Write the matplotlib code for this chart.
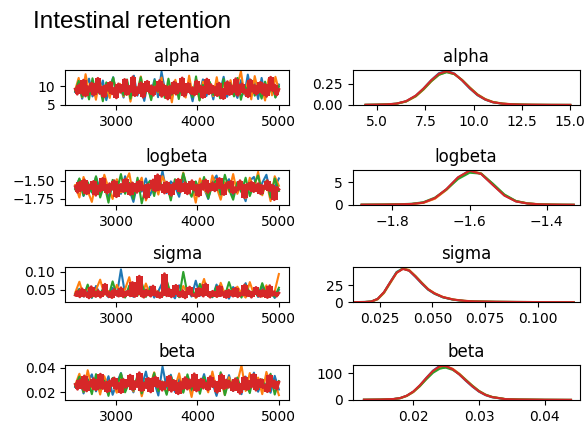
import numpy as np
import matplotlib
matplotlib.use("Agg")
import matplotlib.pyplot as plt

params = ["alpha", "logbeta", "sigma", "beta"]
chain_colors = ["C0", "C1", "C2", "C3"]
first_draw = 2500
last_draw = 5000

# ---- trace values (thinned) ----
alpha_blue = [8.4, 10.9, 6.6, 9.8, 12.0, 7.2, 10.4, 8.0, 11.5, 6.2, 9.6, 12.4, 7.9, 10.1, 6.9, 11.0, 8.5, 12.8, 7.4, 9.9,
              6.0, 10.7, 8.2, 11.9, 7.0, 13.9, 8.8, 10.3, 6.7, 11.2, 8.3, 12.1, 7.5, 9.7, 5.9, 10.6, 8.1, 11.8, 7.3, 10.0,
              6.4, 11.4, 8.6, 12.5, 7.1, 10.2, 8.9, 6.8, 11.6, 7.7, 13.1, 8.0, 10.8, 6.5, 12.2, 7.6, 9.5, 11.1, 7.0, 10.4]
alpha_orange = [9.0, 12.2, 7.0, 13.2, 8.2, 10.8, 6.3, 11.5, 7.8, 9.9, 6.8, 12.0, 8.5, 10.6, 7.2, 11.3, 5.8, 10.1, 8.7, 12.6,
                7.5, 9.6, 6.6, 11.0, 8.3, 12.3, 7.1, 10.4, 5.6, 11.7, 8.0, 9.8, 6.9, 12.8, 7.7, 10.5, 6.2, 11.2, 8.4, 9.7,
                7.3, 12.4, 6.7, 10.9, 8.1, 11.6, 7.4, 10.2, 14.0, 7.9, 11.1, 6.4, 12.7, 8.6, 10.0, 6.1, 11.9, 7.5, 12.5, 8.8]
alpha_green = [8.6, 11.4, 7.1, 10.5, 6.4, 12.1, 7.9, 10.2, 5.9, 11.0, 8.3, 12.3, 6.9, 9.8, 7.5, 11.8, 6.6, 10.7, 8.1, 12.4,
               7.3, 10.0, 6.2, 11.5, 8.5, 9.7, 6.8, 12.0, 7.7, 10.9, 6.5, 11.3, 8.2, 9.9, 7.0, 12.6, 6.1, 10.3, 8.4, 11.1,
               7.6, 9.6, 6.7, 11.9, 8.0, 10.6, 7.2, 12.2, 6.3, 10.1, 8.7, 11.6, 7.4, 9.5, 6.6, 11.2, 7.8, 10.4, 6.9, 9.9]
alpha_red = [9.2, 7.8, 10.4, 8.1, 11.6, 7.3, 9.9, 8.6, 10.8, 7.6, 9.4, 12.1, 8.0, 9.7, 7.1, 10.2, 8.8, 11.0, 7.9, 9.5,
             6.8, 10.6, 8.3, 9.1, 11.8, 7.7, 10.0, 8.5, 12.5, 7.4, 9.6, 8.2, 10.9, 7.0, 9.3, 11.3, 8.4, 10.1, 7.5, 9.8,
             8.7, 11.5, 7.2, 10.3, 8.9, 6.5, 9.9, 8.0, 11.1, 7.8, 10.5, 8.6, 12.2, 7.3, 9.4, 10.7, 8.1, 9.6, 7.6, 11.4,
             8.5, 10.0, 6.9, 9.2, 11.9, 7.9, 10.4, 8.3, 9.7, 7.4, 10.8, 8.8, 6.6, 9.5, 11.2, 7.7, 10.1, 8.4, 12.0, 7.5,
             9.3, 10.6, 8.2, 9.0, 7.1, 11.7, 8.6, 10.2, 7.8, 9.8, 11.0, 8.0, 10.5, 7.2, 9.4, 12.4, 8.7, 10.3, 7.6, 9.1]

logbeta_blue = [-1.60, -1.48, -1.71, -1.55, -1.66, -1.45, -1.63, -1.52, -1.74, -1.57,
                -1.50, -1.68, -1.44, -1.62, -1.79, -1.53, -1.65, -1.47, -1.70, -1.56,
                -1.61, -1.37, -1.67, -1.51, -1.58, -1.72, -1.46, -1.64, -1.54, -1.69,
                -1.49, -1.60, -1.75, -1.52, -1.43, -1.66, -1.57, -1.48, -1.71, -1.55,
                -1.63, -1.78, -1.50, -1.45, -1.67, -1.53, -1.42, -1.69, -1.59, -1.47]
logbeta_orange = [-1.56, -1.73, -1.45, -1.64, -1.79, -1.51, -1.68, -1.42, -1.60, -1.75,
                  -1.48, -1.66, -1.53, -1.40, -1.70, -1.57, -1.46, -1.77, -1.62, -1.50,
                  -1.69, -1.44, -1.58, -1.73, -1.49, -1.63, -1.39, -1.67, -1.55, -1.80,
                  -1.47, -1.61, -1.71, -1.43, -1.59, -1.76, -1.52, -1.65, -1.41, -1.68,
                  -1.54, -1.74, -1.46, -1.62, -1.38, -1.70, -1.51, -1.78, -1.44, -1.57]
logbeta_green = [-1.62, -1.47, -1.70, -1.52, -1.66, -1.44, -1.73, -1.55, -1.80, -1.49,
                 -1.64, -1.41, -1.68, -1.53, -1.75, -1.46, -1.81, -1.58, -1.50, -1.71,
                 -1.43, -1.63, -1.54, -1.77, -1.48, -1.67, -1.40, -1.60, -1.72, -1.51,
                 -1.65, -1.45, -1.74, -1.56, -1.49, -1.69, -1.42, -1.62, -1.76, -1.52,
                 -1.66, -1.46, -1.71, -1.55, -1.43, -1.68, -1.50, -1.73, -1.47, -1.64]
logbeta_red = [-1.58, -1.66, -1.52, -1.63, -1.49, -1.68, -1.56, -1.61, -1.51, -1.70,
               -1.57, -1.64, -1.47, -1.60, -1.67, -1.54, -1.62, -1.50, -1.72, -1.59,
               -1.55, -1.65, -1.48, -1.61, -1.69, -1.53, -1.58, -1.66, -1.51, -1.63,
               -1.57, -1.74, -1.55, -1.60, -1.49, -1.64, -1.42, -1.62, -1.56, -1.67,
               -1.52, -1.59, -1.70, -1.54, -1.61, -1.48, -1.65, -1.57, -1.53, -1.68,
               -1.60, -1.50, -1.63, -1.56, -1.71, -1.55, -1.62, -1.49, -1.66, -1.58,
               -1.53, -1.64, -1.57, -1.47, -1.61, -1.69, -1.54, -1.60, -1.51, -1.67,
               -1.59, -1.63, -1.50, -1.56, -1.73, -1.55, -1.62, -1.52, -1.65, -1.58,
               -1.54, -1.68, -1.57, -1.61, -1.50, -1.64, -1.56, -1.76, -1.59, -1.62]

sigma_blue = [.038, .052, .030, .047, .026, .060, .035, .043, .028, .055,
              .033, .107, .037, .050, .029, .066, .040, .031, .058, .027,
              .045, .070, .034, .041, .025, .062, .036, .048, .030, .075,
              .032, .053, .039, .028, .064, .035, .046, .024, .057, .037,
              .042, .068, .031, .050, .029, .061, .034, .044, .026, .049]
sigma_orange = [.041, .072, .032, .055, .029, .049, .078, .035, .046, .027,
                .063, .038, .051, .085, .033, .044, .030, .067, .036, .057,
                .028, .048, .074, .034, .042, .031, .060, .039, .052, .026,
                .045, .080, .035, .043, .029, .069, .037, .050, .032, .058,
                .040, .027, .071, .036, .047, .030, .062, .034, .045, .094]
sigma_green = [.036, .050, .031, .064, .028, .045, .039, .057, .030, .073,
               .034, .048, .027, .061, .042, .033, .069, .029, .052, .037,
               .044, .031, .076, .035, .047, .028, .100, .038, .054, .030,
               .066, .036, .043, .029, .059, .040, .032, .071, .035, .049,
               .027, .063, .038, .046, .031, .068, .034, .041, .030, .055]
sigma_red = [.034, .045, .029, .052, .031, .041, .026, .058, .036, .030,
             .047, .028, .039, .065, .033, .043, .027, .050, .035, .031,
             .055, .029, .038, .046, .032, .070, .030, .042, .088, .034,
             .028, .049, .037, .031, .060, .033, .044, .027, .040, .095,
             .032, .051, .029, .038, .062, .035, .030, .047, .026, .041,
             .057, .033, .036, .029, .053, .038, .031, .066, .034, .028,
             .045, .037, .030, .059, .033, .042, .027, .048, .036, .031,
             .054, .029, .040, .035, .063, .032, .046, .028, .039, .056,
             .034, .030, .049, .036, .027, .061, .033, .044, .031, .040]

beta_blue = [.0242, .0314, .0190, .0282, .0346, .0207, .0300, .0230, .0331, .0179,
             .0276, .0357, .0228, .0291, .0199, .0317, .0245, .0369, .0213, .0285,
             .0173, .0410, .0236, .0343, .0202, .0308, .0253, .0297, .0193, .0323,
             .0239, .0348, .0216, .0279, .0170, .0305, .0233, .0340, .0210, .0288,
             .0184, .0328, .0248, .0360, .0204, .0294, .0256, .0196, .0334, .0222]
beta_orange = [.0259, .0351, .0202, .0380, .0236, .0311, .0181, .0331, .0225, .0285,
               .0196, .0346, .0245, .0305, .0207, .0325, .0167, .0291, .0251, .0363,
               .0216, .0276, .0190, .0317, .0239, .0354, .0204, .0300, .0161, .0337,
               .0230, .0282, .0199, .0369, .0222, .0302, .0179, .0323, .0242, .0279,
               .0419, .0210, .0357, .0233, .0320, .0184, .0366, .0248, .0288, .0176]
beta_green = [.0248, .0328, .0204, .0302, .0184, .0348, .0228, .0294, .0170, .0317,
              .0239, .0354, .0199, .0282, .0216, .0340, .0190, .0308, .0233, .0357,
              .0210, .0288, .0179, .0331, .0245, .0279, .0196, .0346, .0222, .0314,
              .0187, .0325, .0236, .0285, .0202, .0363, .0176, .0297, .0242, .0320,
              .0219, .0276, .0193, .0343, .0230, .0305, .0207, .0351, .0181, .0291]
beta_red = [.0265, .0224, .0300, .0233, .0334, .0210, .0285, .0248, .0311, .0219,
            .0271, .0348, .0230, .0279, .0204, .0294, .0253, .0317, .0228, .0274,
            .0196, .0305, .0239, .0262, .0340, .0222, .0288, .0245, .0360, .0213,
            .0276, .0236, .0314, .0202, .0268, .0325, .0242, .0291, .0216, .0282,
            .0251, .0331, .0207, .0297, .0256, .0187, .0285, .0230, .0320, .0225,
            .0302, .0248, .0351, .0210, .0271, .0308, .0233, .0276, .0219, .0328,
            .0245, .0288, .0199, .0265, .0343, .0228, .0300, .0239, .0279, .0213,
            .0311, .0253, .0190, .0274, .0323, .0222, .0291, .0242, .0346, .0216,
            .0268, .0305, .0236, .0259, .0204, .0337, .0248, .0294, .0225, .0282]

# ---- posterior density curves (one per chain) ----
alpha_grid = [4.4, 5.0, 5.5, 6.0, 6.5, 7.0, 7.4, 7.8, 8.2, 8.6, 9.0, 9.4, 9.8, 10.2, 10.6, 11.0, 11.5, 12.0, 12.5, 13.0, 14.0, 15.0]
alpha_kde_blue = [0.001, 0.003, 0.007, 0.015, 0.043, 0.108, 0.192, 0.292, 0.374, 0.405, 0.370, 0.288, 0.193, 0.114, 0.062, 0.031, 0.014, 0.007, 0.004, 0.002, 0.001, 0.001]
alpha_kde_orange = [0.001, 0.003, 0.006, 0.014, 0.040, 0.100, 0.180, 0.276, 0.356, 0.388, 0.364, 0.295, 0.206, 0.125, 0.070, 0.036, 0.017, 0.009, 0.005, 0.003, 0.0015, 0.001]
alpha_kde_green = [0.002, 0.004, 0.007, 0.015, 0.042, 0.104, 0.184, 0.279, 0.355, 0.386, 0.362, 0.294, 0.203, 0.121, 0.066, 0.033, 0.015, 0.008, 0.004, 0.002, 0.001, 0.0005]
alpha_kde_red = [0.002, 0.004, 0.007, 0.016, 0.045, 0.111, 0.194, 0.290, 0.368, 0.397, 0.366, 0.290, 0.198, 0.118, 0.064, 0.032, 0.015, 0.008, 0.004, 0.003, 0.001, 0.0005]

logbeta_grid = [-1.88, -1.82, -1.78, -1.75, -1.72, -1.69, -1.66, -1.63, -1.60, -1.57, -1.54, -1.51, -1.48, -1.45, -1.42, -1.39, -1.36, -1.33]
logbeta_kde_blue = [0.02, 0.05, 0.11, 0.19, 0.48, 1.45, 3.45, 6.05, 7.6, 6.85, 4.45, 2.1, 0.78, 0.3, 0.12, 0.05, 0.02, 0.01]
logbeta_kde_orange = [0.02, 0.05, 0.1, 0.17, 0.44, 1.35, 3.3, 5.9, 7.5, 6.95, 4.6, 2.2, 0.85, 0.34, 0.14, 0.07, 0.03, 0.01]
logbeta_kde_green = [0.03, 0.07, 0.14, 0.24, 0.58, 1.6, 3.4, 5.7, 7.1, 6.9, 4.7, 2.3, 0.85, 0.32, 0.12, 0.05, 0.02, 0.01]
logbeta_kde_red = [0.03, 0.06, 0.12, 0.2, 0.5, 1.5, 3.5, 6.1, 7.55, 6.8, 4.4, 2.05, 0.75, 0.3, 0.12, 0.06, 0.03, 0.01]

sigma_grid = [0.013, 0.018, 0.021, 0.024, 0.027, 0.030, 0.033, 0.036, 0.039, 0.042, 0.045, 0.048, 0.051, 0.055, 0.060, 0.065, 0.070, 0.080, 0.090, 0.100, 0.117]
sigma_kde_blue = [0.1, 0.3, 0.9, 4.6, 14.5, 30, 45, 50.5, 47, 37.5, 27.5, 18.5, 12.5, 7.2, 3.6, 1.9, 1.0, 0.5, 0.3, 0.15, 0.05]
sigma_kde_orange = [0.1, 0.2, 0.8, 4.2, 13.5, 28.5, 43.5, 50.5, 48, 39, 29, 19.5, 13.5, 7.8, 4.0, 2.1, 1.2, 0.6, 0.3, 0.2, 0.05]
sigma_kde_green = [0.1, 0.3, 1.0, 4.8, 14.5, 29.5, 44.5, 50, 47, 38.5, 28.5, 19, 12.8, 7.3, 3.7, 1.9, 1.0, 0.5, 0.3, 0.15, 0.05]
sigma_kde_red = [0.1, 0.3, 1.0, 5.0, 15, 30, 44, 49.5, 47, 38, 28, 19, 13, 7.5, 3.8, 2.0, 1.1, 0.5, 0.3, 0.15, 0.05]

beta_grid = [0.0125, 0.015, 0.017, 0.018, 0.019, 0.020, 0.021, 0.022, 0.023, 0.024, 0.0245, 0.025, 0.026, 0.027,
             0.028, 0.029, 0.030, 0.031, 0.032, 0.034, 0.036, 0.040, 0.044]
beta_kde_blue = [0.6, 1.3, 3.2, 6.6, 15.2, 30.5, 54, 83, 110, 128, 130, 128, 116, 96, 72, 50, 31, 18, 10, 2.8, 1.4, 0.5, 0.1]
beta_kde_orange = [0.5, 1.2, 3.0, 6.2, 14.5, 29, 51, 79, 105, 122, 125, 125, 117, 99, 76, 54, 34, 20, 11.5, 3.3, 1.7, 0.6, 0.2]
beta_kde_green = [0.7, 1.4, 3.4, 6.8, 15.5, 30.5, 52, 78, 102, 117, 120, 121, 113, 97, 75, 53, 33.5, 19.5, 11, 3.2, 1.6, 0.5, 0.1]
beta_kde_red = [0.8, 1.5, 3.5, 7.0, 15.9, 31.5, 55, 83, 109, 126, 128, 126.5, 115, 96, 73, 51, 32, 18.5, 10.5, 3, 1.5, 0.5, 0.1]

traces = {
    "alpha": [alpha_blue, alpha_orange, alpha_green, alpha_red],
    "logbeta": [logbeta_blue, logbeta_orange, logbeta_green, logbeta_red],
    "sigma": [sigma_blue, sigma_orange, sigma_green, sigma_red],
    "beta": [beta_blue, beta_orange, beta_green, beta_red],
}
kdes = {
    "alpha": (alpha_grid, [alpha_kde_blue, alpha_kde_orange, alpha_kde_green, alpha_kde_red]),
    "logbeta": (logbeta_grid, [logbeta_kde_blue, logbeta_kde_orange, logbeta_kde_green, logbeta_kde_red]),
    "sigma": (sigma_grid, [sigma_kde_blue, sigma_kde_orange, sigma_kde_green, sigma_kde_red]),
    "beta": (beta_grid, [beta_kde_blue, beta_kde_orange, beta_kde_green, beta_kde_red]),
}

# axis settings per parameter: trace ylim, trace yticks, kde xlim, kde xticks, kde ylim, kde yticks
settings = {
    "alpha": ((4.9, 14.3), [5, 10], (3.74, 15.48), [5.0, 7.5, 10.0, 12.5, 15.0], (0, 0.41), [0.0, 0.25]),
    "logbeta": ((-1.83, -1.355), [-1.75, -1.50], (-1.903, -1.315), [-1.8, -1.6, -1.4], (0, 7.7), [0, 5]),
    "sigma": ((0.014, 0.113), [0.05, 0.10], (0.0122, 0.1198), [0.025, 0.050, 0.075, 0.100], (0, 52), [0, 25]),
    "beta": ((0.0137, 0.0422), [0.02, 0.04], (0.0108, 0.0453), [0.02, 0.03, 0.04], (0, 131), [0, 100]),
}


def sweep(vals, width):
    """lowest / highest value among `width` neighbouring kept draws (centred)"""
    half = width // 2
    padded = np.concatenate([np.repeat(vals[0], half), vals, np.repeat(vals[-1], width - 1 - half)])
    windows = np.array([padded[k:k + len(vals)] for k in range(width)])
    return windows.min(axis=0), windows.max(axis=0)


fig = plt.figure(figsize=(5.86, 4.25), dpi=100)

row_bottoms = [0.753, 0.518, 0.289, 0.059]
row_height = 0.082

for i, name in enumerate(params):
    ax_t = fig.add_axes([0.111, row_bottoms[i], 0.382, row_height])
    ax_k = fig.add_axes([0.602, row_bottoms[i], 0.387, row_height])
    t_ylim, t_yticks, k_xlim, k_xticks, k_ylim, k_yticks = settings[name]

    chains = traces[name]
    for chain, color in zip(chains[:-1], chain_colors[:-1]):
        steps = np.linspace(first_draw, last_draw, len(chain))
        ax_t.plot(steps, chain, color=color, lw=1.5)
    # last chain is drawn on top; fill the core its dense trace sweeps out
    vals = np.asarray(chains[-1])
    steps = np.linspace(first_draw, last_draw, len(vals))
    lo, hi = sweep(vals, 3)
    ax_t.fill_between(steps, lo, hi, step="mid", color=chain_colors[-1], lw=0, zorder=3)
    ax_t.plot(steps, vals, color=chain_colors[-1], lw=2.0, zorder=3)

    ax_t.set_xlim(2375, 5123)
    ax_t.set_ylim(*t_ylim)
    ax_t.set_xticks([3000, 4000, 5000])
    ax_t.set_yticks(t_yticks)
    ax_t.set_title(name)

    grid, curves = kdes[name]
    for dens, color in zip(curves, chain_colors):
        ax_k.plot(grid, dens, color=color, lw=1.5)
    ax_k.set_xlim(*k_xlim)
    ax_k.set_ylim(*k_ylim)
    ax_k.set_xticks(k_xticks)
    ax_k.set_yticks(k_yticks)
    ax_k.set_title(name)

fig.text(0.056, 0.934, "Intestinal retention", family="Liberation Sans", fontsize=17.5, va="baseline")

fig.savefig("out.png", dpi=100)
